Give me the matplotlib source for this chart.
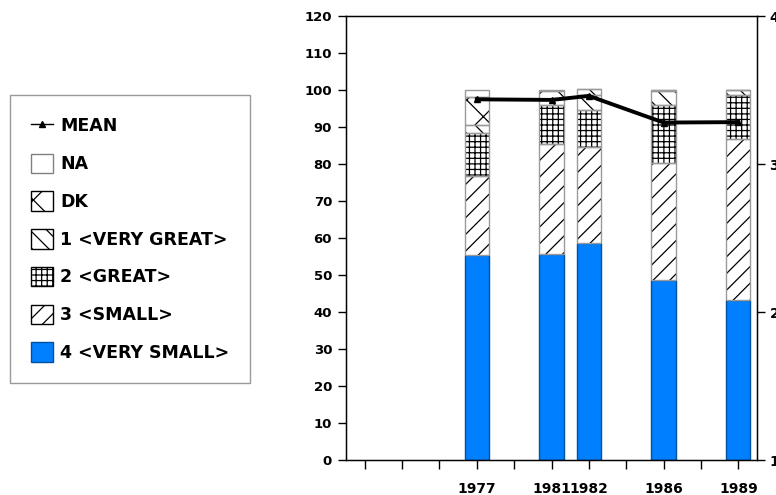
import matplotlib
matplotlib.use("Agg")
import matplotlib.pyplot as plt
from matplotlib.patches import Patch
from matplotlib.lines import Line2D
import numpy as np

# slots on the category axis (blank slots are empty years)
slots = ['', '', '', '1977', '', '1981', '1982', '', '1986', '', '1989']
years = ['1977', '1981', '1982', '1986', '1989']

very_small = [55.4, 55.7, 58.6, 48.6, 43.2]
small = [21.3, 29.7, 25.9, 31.7, 43.6]
great = [11.7, 10.5, 10.1, 15.7, 11.9]
very_great = [2.2, 1.7, 4.1, 3.6, 1.3]
dk = [7.4, 2.2, 1.6, 0.4, 0.0]
na = [2.0, 0.2, 0.0, 0.0, 0.0]
mean = [3.437, 3.433, 3.46, 3.28, 3.283]

plt.rcParams['font.family'] = 'DejaVu Sans'
plt.rcParams['font.weight'] = 'bold'
plt.rcParams['hatch.linewidth'] = 0.9

fig = plt.figure(figsize=(7.76, 4.95), dpi=100)
ax = fig.add_axes([346/776, 1-460/495, (757-346)/776, (460-16)/495])

x = np.array([slots.index(y) for y in years])
w = 0.65
blue = '#0080ff'

segs = [
    (very_small, None, blue),
    (small, '//', 'white'),
    (great, '+++', 'white'),
    (very_great, '\\\\', 'white'),
    (dk, 'x', 'white'),
    (na, None, 'white'),
]
bottom = np.zeros(len(years))
for vals, hatch, col in segs:
    vals = np.array(vals)
    if col == blue:
        ax.bar(x, vals, w, bottom=bottom, color=blue, edgecolor='#0050a0', linewidth=1, zorder=2)
    else:
        ax.bar(x, vals, w, bottom=bottom, color=col, hatch=hatch, edgecolor='black', linewidth=0, zorder=2)
        ax.bar(x, vals, w, bottom=bottom, fill=False, edgecolor='#9a9a9a', linewidth=1, zorder=3)
    bottom = bottom + vals

ax.set_xlim(-0.5, len(slots) - 0.5)
ax.set_ylim(0, 120)
ax.set_yticks(range(0, 121, 10))
ax.set_xticks(range(len(slots)))
ax.set_xticklabels(slots)
ax.tick_params(axis='y', direction='out', length=6, width=1, labelsize=9.5, pad=4)
ax.tick_params(axis='x', direction='out', length=6.5, width=1, labelsize=10, pad=9)
for s in ax.spines.values():
    s.set_linewidth(1)

ax2 = ax.twinx()
ax2.set_ylim(1, 4)
ax2.set_yticks([1, 2, 3, 4])
ax2.tick_params(axis='y', direction='out', length=6, width=1, labelsize=10, pad=3)
ax2.plot(x, mean, color='black', linewidth=2.8, marker='^', markersize=5, zorder=5)

handles = [
    Line2D([], [], color='black', linewidth=1, marker='^', markersize=5),
    Patch(facecolor='white', edgecolor='#808080', linewidth=1),
    Patch(facecolor='white', edgecolor='black', hatch='x', linewidth=1),
    Patch(facecolor='white', edgecolor='black', hatch='\\\\', linewidth=1),
    Patch(facecolor='white', edgecolor='black', hatch='+++', linewidth=1),
    Patch(facecolor='white', edgecolor='black', hatch='//', linewidth=1),
    Patch(facecolor=blue, edgecolor='#0050a0', linewidth=1),
]
labels = ['MEAN', 'NA', 'DK', '1 <VERY GREAT>', '2 <GREAT>', '3 <SMALL>', '4 <VERY SMALL>']
leg = fig.legend(handles, labels, loc='upper left', bbox_to_anchor=(10/776, 1-95/495),
                 bbox_transform=fig.transFigure, borderaxespad=0, fontsize=12.5,
                 frameon=True, fancybox=False, edgecolor='#808080', borderpad=1.2,
                 handlelength=1.3, handleheight=1.35, labelspacing=1.05, handletextpad=0.4)
leg.get_frame().set_linewidth(1)

fig.savefig('out.png', dpi=100)
